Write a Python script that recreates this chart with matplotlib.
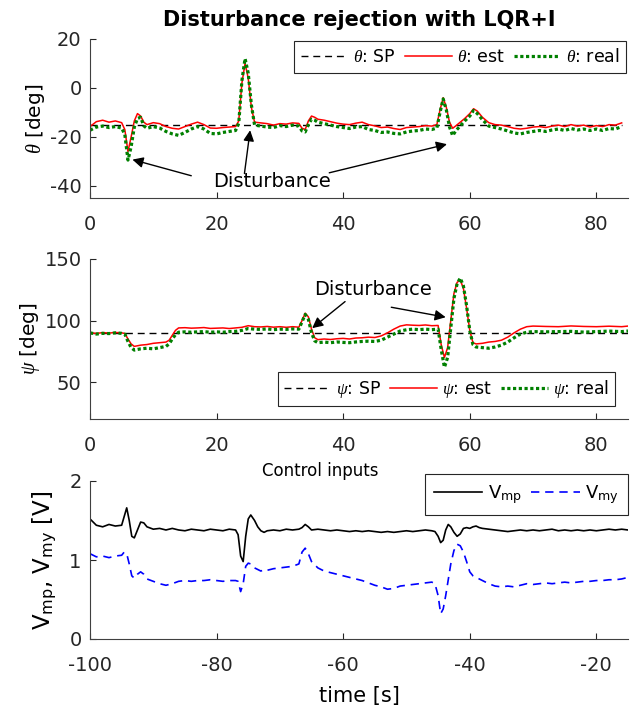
import matplotlib
matplotlib.use("Agg")
import matplotlib.pyplot as plt

plt.rcParams['font.family'] = ['DejaVu Sans']
plt.rcParams['mathtext.fontset'] = 'custom'
plt.rcParams['mathtext.rm'] = 'DejaVu Sans'
plt.rcParams['mathtext.it'] = 'Liberation Serif:italic'
plt.rcParams['mathtext.sf'] = 'DejaVu Sans'
plt.rcParams['axes.unicode_minus'] = False

# ---- pitch (theta) ----
th_t = [0, 1, 2, 3, 4, 5, 5.5, 6, 6.5, 7,
        7.5, 8, 8.5, 9, 10, 11, 12, 13, 14, 15,
        16, 17, 18, 19, 20, 21, 22, 23, 23.5, 24,
        24.5, 25, 25.5, 26, 27, 28, 29, 30, 31, 32,
        33, 33.5, 34, 34.5, 35, 35.5, 36, 37, 38, 39,
        40, 41, 42, 43, 44, 45, 46, 47, 48, 49,
        50, 51, 52, 53, 54, 54.8, 55.3, 55.8, 56.3, 56.8,
        57.3, 57.8, 58.5, 59.2, 60, 60.6, 61.2, 62, 63, 64,
        65, 66, 67, 68, 69, 70, 71, 72, 73, 74,
        75, 76, 77, 78, 79, 80, 81, 82, 83, 84]
th_est = [-15.8, -13.8, -13.2, -14.0, -13.5, -14.2, -17, -26, -20, -13.5,
          -10.5, -11.5, -14, -15, -14.2, -14.6, -15.8, -16.5, -16.8, -15.8,
          -14.8, -14.0, -15.0, -16.4, -16.5, -16.2, -16.0, -15.8, -13.5, 2,
          10, 4, -8, -14, -14.3, -14.6, -15.2, -14.6, -14.8, -14.3,
          -14.5, -16.5, -17.0, -13.5, -11.5, -12.0, -12.8, -13.2, -13.8, -14.4,
          -14.8, -15.0, -14.4, -14.0, -15.0, -15.5, -16.2, -16.0, -16.6, -17.0,
          -16.2, -16.0, -15.8, -15.4, -15.6, -15.0, -9, -4, -8, -14,
          -16.5, -15.5, -14, -12.5, -10.5, -8.5, -9.5, -12, -14.2, -15.0,
          -15.2, -15.8, -16.5, -16.8, -16.5, -16.0, -15.8, -16.2, -15.6, -15.2,
          -15.8, -15.0, -15.6, -15.2, -16.0, -15.4, -15.8, -15.0, -15.2, -14.3]
th_real = [-17.3, -16.0, -15.6, -16.2, -15.8, -16.4, -19, -29.5, -24, -16,
           -12.5, -12, -15.5, -16.5, -15.8, -16.4, -17.8, -18.8, -19.4, -18.2,
           -16.8, -15.8, -16.8, -18.6, -18.8, -18.2, -17.8, -17.4, -14.5, 3,
           12, 6, -7, -15.2, -15.6, -16.0, -16.2, -15.4, -15.8, -15.2,
           -15.6, -17.6, -18.0, -15, -12.8, -13.2, -14.0, -14.6, -15.2, -15.8,
           -16.2, -16.6, -16.0, -15.8, -17.0, -17.4, -18.2, -18.0, -18.6, -18.8,
           -18.0, -17.6, -17.4, -16.8, -17.0, -16.4, -10, -4.5, -9, -16,
           -19.5, -17.5, -15.5, -13.5, -11.5, -9.2, -10.5, -13, -15.6, -16.2,
           -16.8, -17.6, -18.4, -18.8, -18.2, -17.8, -17.4, -17.8, -17.2, -16.8,
           -17.4, -16.6, -17.2, -16.8, -17.4, -16.8, -17.4, -16.6, -16.8, -15.8]
th_sp = -15

# ---- yaw (psi) ----
ps_t = [0, 1, 2, 3, 4, 5, 5.5, 6, 6.5, 7,
        8, 9, 10, 11, 12, 12.5, 13, 13.5, 14, 15,
        16, 17, 18, 19, 20, 21, 22, 23, 24, 25,
        26, 27, 28, 29, 30, 31, 32, 33, 33.5, 34,
        34.5, 35, 35.5, 36, 37, 38, 39, 40, 41, 42,
        43, 44, 45, 46, 47, 48, 49, 50, 51, 52,
        53, 54, 55, 55.5, 56, 56.5, 57, 57.5, 58, 58.5,
        59, 59.5, 60, 60.5, 61, 62, 63, 64, 65, 66,
        67, 68, 69, 70, 72, 74, 76, 78, 80, 82,
        84, 85]
ps_est = [90, 89.5, 90.2, 89.8, 90.3, 90, 89.5, 85, 81, 79,
          80, 80.5, 81.5, 82, 82.5, 84, 88, 92, 94, 94.2,
          93.8, 94, 94.3, 93.6, 93.8, 94, 93.5, 94, 94.5, 95.8,
          95, 94.8, 95.2, 94.6, 95, 94.5, 95, 94.6, 100, 106,
          103, 93, 86, 84.5, 85, 84.6, 85.2, 85.5, 85, 85.8,
          86, 86.5, 86.2, 87.5, 90, 93, 95.5, 96.5, 96.2, 96,
          96.4, 95.8, 96, 80, 70, 78, 100, 122, 131, 133,
          126, 110, 92, 82, 81, 81.5, 82.5, 83, 84, 86.5,
          90, 93, 95, 95.5, 95.2, 95, 95.6, 95.2, 95, 95.4,
          95, 95.5]
ps_real = [90, 89, 89.6, 89.4, 90, 89.6, 89, 83, 78, 76,
           77, 77.5, 77, 78, 79, 81, 85, 88.5, 90.5, 90.8,
           90.5, 90.8, 91, 90.5, 90.8, 90.5, 91, 91.2, 92, 93.5,
           93, 92.8, 93.2, 92.6, 93, 92.8, 93.2, 93, 99, 105,
           101, 90, 83.5, 82, 82.5, 82, 82.6, 82.2, 82, 82.6,
           83, 83.2, 83, 84, 86.5, 89, 91.5, 92.5, 93, 92.6,
           93, 92.6, 93, 76, 62, 70, 94, 118, 130, 134.5,
           128, 112, 92, 80.5, 78.5, 78, 77.5, 78.5, 80, 82.5,
           86, 89, 90.5, 91, 90.8, 91, 91.2, 90.6, 91, 91.4,
           91, 91.5]
ps_sp = 90

# ---- control inputs ----
u_t = [-100, -99, -98, -97, -96, -95, -94.6, -94.2, -93.8, -93.4,
       -93, -92.5, -92, -91.5, -91, -90, -89, -88, -87, -86,
       -85, -84, -83, -82, -81, -80, -79, -78, -77, -76.6,
       -76.2, -75.8, -75.4, -75, -74.6, -74, -73.5, -73, -72.5, -72,
       -71, -70, -69, -68, -67, -66.5, -66, -65.5, -65, -64,
       -63, -62, -61, -60, -59, -58, -57, -56, -55, -54,
       -53, -52, -51, -50, -49, -48, -47, -46, -45.5, -45,
       -44.6, -44.2, -43.8, -43.4, -43, -42.5, -42, -41.5, -41, -40.5,
       -40, -39.5, -39, -38.5, -38, -37, -36, -35, -34, -33,
       -32, -31, -30, -29, -28, -27, -26, -25, -24, -23,
       -22, -21, -20, -19, -18, -17, -16, -15]
v_mp = [1.52, 1.44, 1.42, 1.45, 1.43, 1.44, 1.55, 1.66, 1.50, 1.30,
        1.28, 1.38, 1.48, 1.47, 1.42, 1.39, 1.40, 1.38, 1.40, 1.38,
        1.37, 1.39, 1.38, 1.37, 1.39, 1.38, 1.37, 1.39, 1.38, 1.32,
        1.05, 0.98, 1.30, 1.52, 1.57, 1.50, 1.42, 1.37, 1.35, 1.37,
        1.38, 1.37, 1.39, 1.38, 1.39, 1.41, 1.45, 1.42, 1.38, 1.39,
        1.38, 1.37, 1.38, 1.37, 1.36, 1.37, 1.36, 1.37, 1.36, 1.35,
        1.36, 1.35, 1.36, 1.37, 1.36, 1.37, 1.38, 1.37, 1.36, 1.30,
        1.22, 1.25, 1.38, 1.45, 1.42, 1.35, 1.30, 1.33, 1.40, 1.41,
        1.40, 1.42, 1.43, 1.41, 1.40, 1.39, 1.38, 1.37, 1.36, 1.37,
        1.38, 1.37, 1.38, 1.37, 1.38, 1.39, 1.37, 1.38, 1.37, 1.38,
        1.37, 1.38, 1.37, 1.38, 1.39, 1.38, 1.39, 1.38]
v_my = [1.08, 1.04, 1.05, 1.03, 1.05, 1.06, 1.10, 1.08, 0.95, 0.80,
        0.77, 0.82, 0.85, 0.82, 0.76, 0.73, 0.70, 0.68, 0.70, 0.73,
        0.74, 0.73, 0.74, 0.74, 0.75, 0.74, 0.73, 0.74, 0.74, 0.73,
        0.60, 0.70, 0.92, 0.96, 0.95, 0.90, 0.88, 0.86, 0.88, 0.87,
        0.89, 0.90, 0.91, 0.92, 0.95, 1.10, 1.15, 1.08, 0.98, 0.90,
        0.86, 0.84, 0.82, 0.80, 0.78, 0.76, 0.74, 0.71, 0.68, 0.66,
        0.63, 0.64, 0.67, 0.68, 0.69, 0.70, 0.71, 0.72, 0.70, 0.55,
        0.32, 0.38, 0.55, 0.75, 0.95, 1.12, 1.20, 1.18, 1.10, 0.98,
        0.85, 0.80, 0.78, 0.76, 0.74, 0.70, 0.67, 0.66, 0.67, 0.66,
        0.68, 0.70, 0.69, 0.70, 0.71, 0.70, 0.71, 0.72, 0.71, 0.72,
        0.73, 0.73, 0.74, 0.74, 0.75, 0.75, 0.76, 0.78]

# annotation text position and arrows (tail, head) in data coords
th_note = (28.8, -38.4)
th_arrows = [((16.0, -35.9), (6.7, -29.3)),
             ((24.4, -35.0), (25.3, -17.3)),
             ((37.8, -34.7), (56.4, -23.0))]
ps_note = (44.7, 124.9)
ps_arrows = [((40.3, 115.4), (35.1, 93.8)),
             ((47.6, 110.8), (56.2, 102.7))]

AXC = '#262626'
TICK_FS = 14
GREEN = '#008000'
DASH = (0, (5, 3.5))
DOTS = (0, (1, 0.8))


def style_axes(ax):
    for s in ['top', 'right']:
        ax.spines[s].set_visible(False)
    for s in ['left', 'bottom']:
        ax.spines[s].set_color('#404040')
        ax.spines[s].set_linewidth(0.8)
    ax.tick_params(direction='in', length=4, width=0.8, colors=AXC,
                   labelsize=TICK_FS)
    ax.tick_params(axis='x', pad=12)
    ax.tick_params(axis='y', pad=6)


def add_legend(ax, fs=12.5, **kw):
    leg = ax.legend(fontsize=fs, frameon=True, fancybox=False, framealpha=1,
                    edgecolor=AXC, handlelength=2.7, handletextpad=0.3,
                    columnspacing=0.5, **kw)
    leg.get_frame().set_linewidth(0.8)
    return leg


def draw_notes(ax, pos, arrows):
    ax.text(pos[0], pos[1], 'Disturbance', fontsize=14, ha='center', va='center')
    for tail, head in arrows:
        ax.annotate('', xy=head, xytext=tail,
                    arrowprops=dict(arrowstyle='-|>', color='k', lw=1.0,
                                    mutation_scale=16, shrinkA=0, shrinkB=0))


fig = plt.figure(figsize=(6.35, 7.1), dpi=100)
L, W = 90 / 635, 538 / 635
ax1 = fig.add_axes([L, (710 - 198) / 710, W, 159 / 710])
ax2 = fig.add_axes([L, (710 - 419) / 710, W, 160 / 710])
ax3 = fig.add_axes([L, (710 - 639) / 710, W, 158 / 710])

# theta
ax1.plot([0, 84], [th_sp, th_sp], color='k', ls=DASH, lw=1.0, label=r'$\theta$: SP')
ax1.plot(th_t, th_est, '-', color='r', lw=1.1, label=r'$\theta$: est')
ax1.plot(th_t, th_real, color=GREEN, ls=DOTS, lw=2.3, label=r'$\theta$: real')
ax1.set_xlim(0, 85)
ax1.set_ylim(-45, 20)
ax1.set_yticks([-40, -20, 0, 20])
ax1.set_xticks([0, 20, 40, 60, 80])
ax1.set_ylabel(r'$\theta$ [deg]', fontsize=14.5, labelpad=2)
ax1.set_title('Disturbance rejection with LQR+I', fontsize=15, fontweight='bold', pad=9)
style_axes(ax1)
add_legend(ax1, loc='upper right', ncol=3, bbox_to_anchor=(1.0, 1.0),
           borderaxespad=0.1, borderpad=0.4)
draw_notes(ax1, th_note, th_arrows)

# psi
ax2.plot([0, 85], [ps_sp, ps_sp], color='k', ls=DASH, lw=1.0, label=r'$\psi$: SP')
ax2.plot(ps_t, ps_est, '-', color='r', lw=1.1, label=r'$\psi$: est')
ax2.plot(ps_t, ps_real, color=GREEN, ls=DOTS, lw=2.3, label=r'$\psi$: real')
ax2.set_xlim(0, 85)
ax2.set_ylim(20, 150)
ax2.set_yticks([50, 100, 150])
ax2.set_xticks([0, 20, 40, 60, 80])
ax2.set_ylabel(r'$\psi$ [deg]', fontsize=14.5, labelpad=2)
style_axes(ax2)
add_legend(ax2, loc='lower right', ncol=3, bbox_to_anchor=(1.0, 0.0),
           borderaxespad=0.75, borderpad=0.35)
draw_notes(ax2, ps_note, ps_arrows)

# control inputs
ax3.plot(u_t, v_mp, '-', color='k', lw=1.2, label=r'V$_{\rm mp}$')
ax3.plot(u_t, v_my, color='b', ls=DASH, lw=1.2, label=r'V$_{\rm my}$')
ax3.set_xlim(-100, -15)
ax3.set_ylim(0, 2)
ax3.set_yticks([0, 1, 2])
ax3.set_xticks([-100, -80, -60, -40, -20])
ax3.set_ylabel(r'V$_{\rm mp}$, V$_{\rm my}$ [V]', fontsize=16.5, labelpad=8)
ax3.set_xlabel('time [s]', fontsize=15, labelpad=8)
ax3.text(0.4275, 1.065, 'Control inputs', fontsize=12, ha='center', va='center',
         transform=ax3.transAxes)
style_axes(ax3)
add_legend(ax3, fs=13, loc='upper right', ncol=2, bbox_to_anchor=(1.0, 1.045),
           borderaxespad=0.0, borderpad=0.5)

fig.savefig('out.png', dpi=100)
